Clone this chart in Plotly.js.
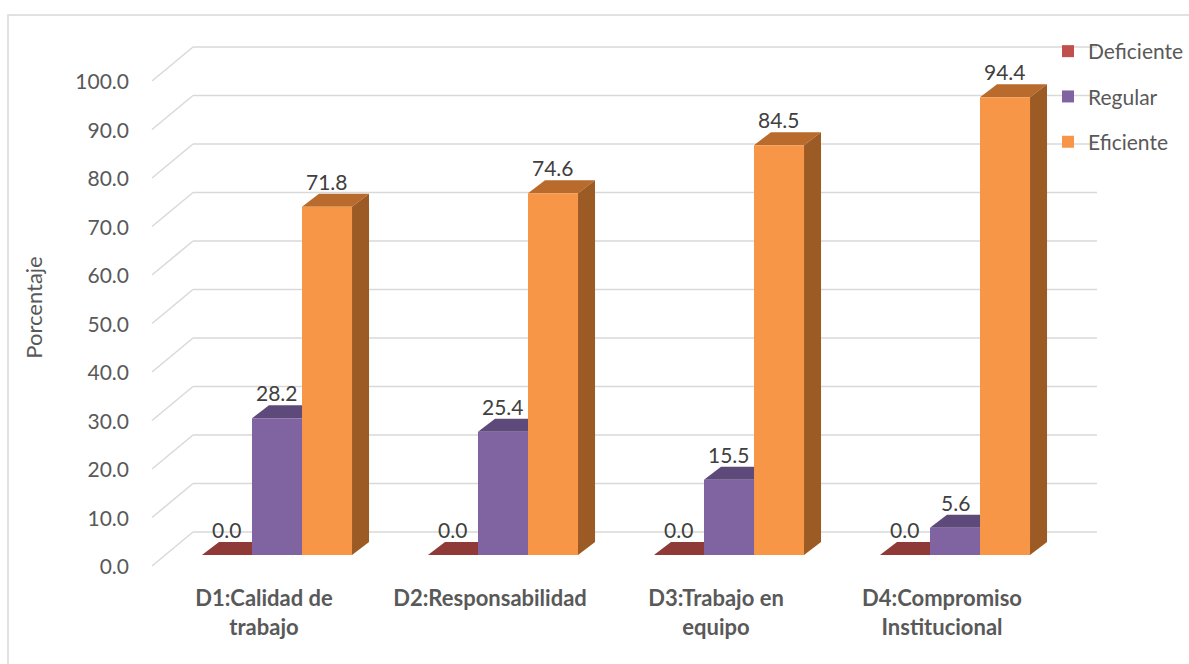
<!DOCTYPE html>
<html><head><meta charset="utf-8">
<script src="https://cdn.plot.ly/plotly-3.0.1.min.js"></script>
<style>html,body{margin:0;padding:0;background:#fff}</style>
</head><body>
<div id="chart" style="width:1189px;height:664px"></div>
<script>
// ---- data ----
const categories = ["D1:Calidad de<br>trabajo", "D2:Responsabilidad", "D3:Trabajo en<br>equipo", "D4:Compromiso<br>Institucional"];
const deficiente = [0.0, 0.0, 0.0, 0.0];
const regular = [28.2, 25.4, 15.5, 5.6];
const eficiente = [71.8, 74.6, 84.5, 94.4];
const seriesNames = ["Deficiente", "Regular", "Eficiente"];
const yTickValues = [0, 10, 20, 30, 40, 50, 60, 70, 80, 90, 100];
const yAxisTitle = "Porcentaje";

// ---- layout geometry / styles ----
const W = 1189, H = 664, L = 152, R = 92, T = 40, B = 89;
const plotW = W - L - R, plotH = H - T - B;
const pxX = 226, x0px = 277;
const pxY = 4.85, zeroPx = 555;
const xRange = [-(x0px - L) / pxX, (W - R - x0px) / pxX];
const yRange = [-(H - B - zeroPx) / pxY, (zeroPx - T) / pxY];
const bargap = 0.336;
const bw = (1 - bargap) / 3;
const depthX = 17 / pxX, depthY = 13 / pxY;
const gridBack = 23 / pxY, gridFront = -11 / pxY;
const gridFrontX = 0, gridBackX = 41 / plotW;

const frontColors = ["#C0504D", "#8064A2", "#F79646"];
const topColors = ["#8F3A37", "#5E4A7A", "#B86B2D"];
const sideColors = ["#8A3532", "#54426E", "#9C5A24"];
const seriesValues = [deficiente, regular, eficiente];

const traces = seriesValues.map((vals, k) => ({
  type: "bar", name: seriesNames[k], x: categories, y: vals,
  marker: {color: frontColors[k], line: {width: 0}},
  legendgroup: "g" + k, hoverinfo: "y"
}));

const shapes = [];
shapes.push({type: "rect", xref: "paper", yref: "paper",
  x0: (8 - L) / plotW, x1: (W + 20 - L) / plotW,
  y0: -(B + 20) / plotH, y1: (H - B - 15) / plotH,
  line: {color: "#D9D9D9", width: 1.5}, fillcolor: "rgba(0,0,0,0)", layer: "below"});
yTickValues.forEach(v => {
  shapes.push({type: "line", xref: "paper", yref: "y", x0: gridBackX, x1: 1,
    y0: v + gridBack, y1: v + gridBack, line: {color: "#D9D9D9", width: 1.5}, layer: "below"});
  shapes.push({type: "line", xref: "paper", yref: "y", x0: gridFrontX, x1: gridBackX,
    y0: v + gridFront, y1: v + gridBack, line: {color: "#D9D9D9", width: 1.5}, layer: "below"});
});
seriesValues.forEach((vals, k) => {
  vals.forEach((v, i) => {
    const xl = i + (k - 1.5) * bw, xr = xl + bw;
    shapes.push({type: "path", xref: "x", yref: "y", layer: "between",
      path: `M${xl},${v} L${xr},${v} L${xr + depthX},${v + depthY} L${xl + depthX},${v + depthY} Z`,
      fillcolor: topColors[k], line: {width: 0}});
    if (v > 0) {
      shapes.push({type: "path", xref: "x", yref: "y", layer: "between",
        path: `M${xr},0 L${xr},${v} L${xr + depthX},${v + depthY} L${xr + depthX},${depthY} Z`,
        fillcolor: sideColors[k], line: {width: 0}});
    }
  });
});

const annotations = [];
seriesValues.forEach((vals, k) => {
  vals.forEach((v, i) => {
    annotations.push({x: i + (k - 1) * bw, y: v, xref: "x", yref: "y",
      text: v.toFixed(1), showarrow: false, yanchor: "bottom", yshift: 11,
      font: {family: "Lato, sans-serif", size: 21, color: "#404040"}});
  });
});

const layout = {
  width: W, height: H,
  margin: {l: L, r: R, t: T, b: B, pad: 0, autoexpand: false},
  paper_bgcolor: "#fff", plot_bgcolor: "rgba(0,0,0,0)",
  barmode: "group", bargap: bargap, bargroupgap: 0,
  font: {family: "Lato, sans-serif", color: "#595959"},
  xaxis: {type: "category", range: xRange, showgrid: false, zeroline: false, showline: false,
    ticks: "", ticklabelshift: -13, ticklabelstandoff: 8,
    tickfont: {size: 22, color: "#595959", weight: "bold"}, fixedrange: true},
  yaxis: {range: yRange, tickvals: yTickValues, tickformat: ".1f", showgrid: false, zeroline: false,
    showline: false, ticks: "", ticklabelshift: 12, ticklabelstandoff: 22,
    tickfont: {size: 21, color: "#595959"},
    title: {text: yAxisTitle, font: {size: 22, color: "#595959"}, standoff: 26}, fixedrange: true},
  showlegend: true,
  legend: {x: (1048 - L) / plotW, xanchor: "left", y: 1.0 + 9 / plotH, yanchor: "top",
    font: {size: 21, color: "#595959"}, tracegroupgap: 15, traceorder: "grouped",
    bgcolor: "rgba(0,0,0,0)"},
  shapes: shapes, annotations: annotations
};

Plotly.newPlot("chart", traces, layout, {displayModeBar: false, staticPlot: true});
</script>
</body></html>
